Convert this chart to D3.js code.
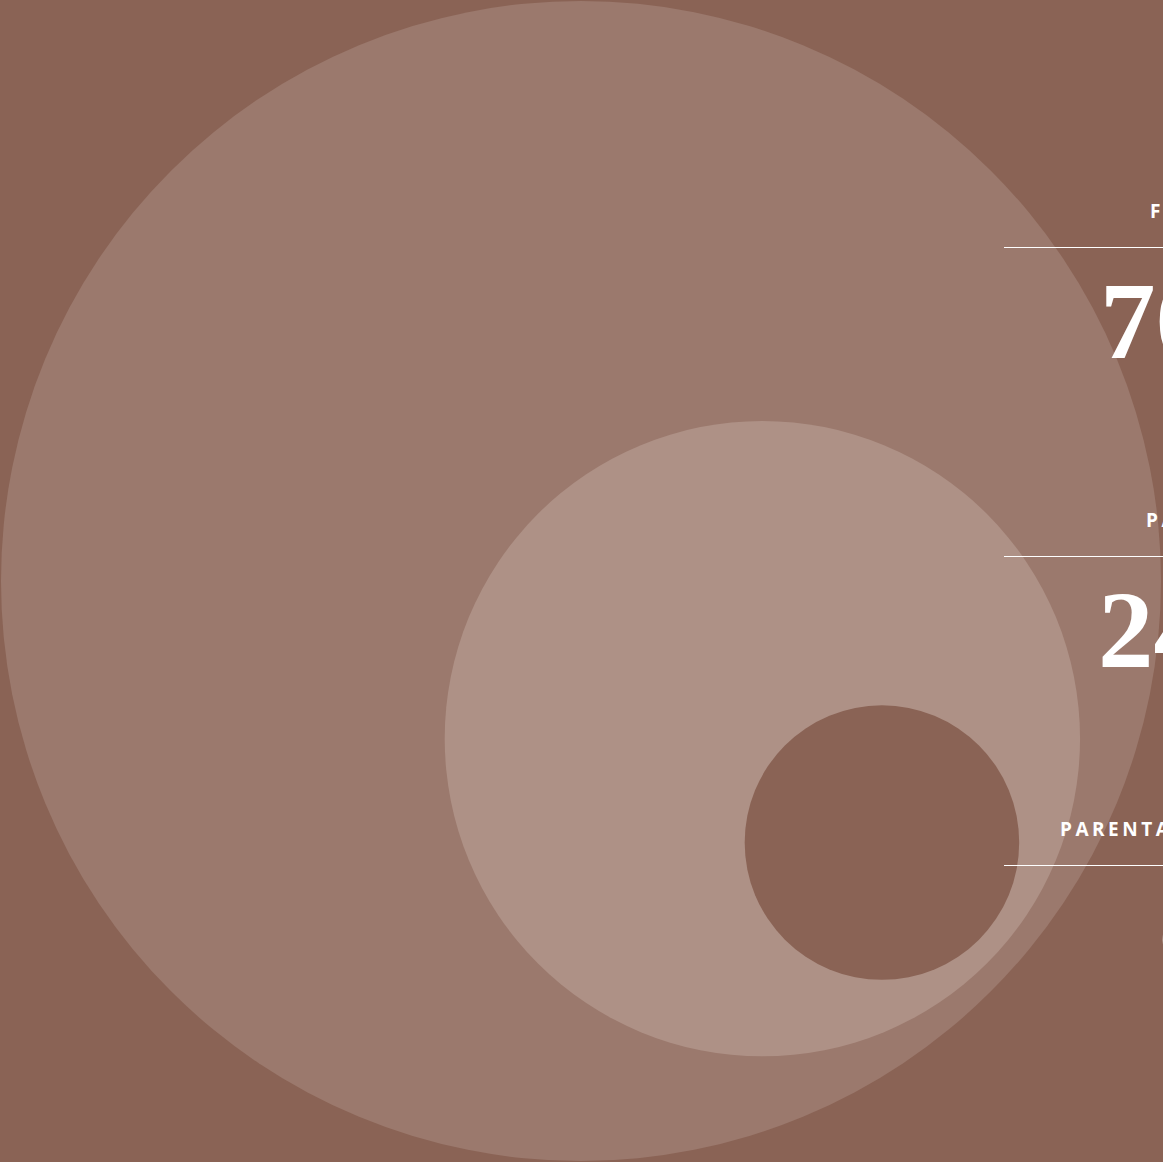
<!DOCTYPE html>
<html>
<head>
<meta charset="utf-8">
<script src="https://cdn.jsdelivr.net/npm/d3@7"></script>
<style>
  html, body { margin: 0; padding: 0; background: #8a6355; overflow: hidden; }
  svg { display: block; }
</style>
</head>
<body>
<script>
var width = 1163, height = 1162;

// data
var labels = ["FULL-TIME", "PART-TIME", "PARENTAL LEAVE"];
var shares = [70, 24.4, 5.6];          // percent
var circleColors = ["#9b796d", "#ae9186", "#8a6355"];

// circles are nested: each one holds its own share plus the ones after it
var cumulative = shares.map(function(d, i) {
  return d3.sum(shares.slice(i));
});

var svg = d3.select("body").append("svg")
    .attr("width", width)
    .attr("height", height);

svg.append("rect")
    .attr("width", width)
    .attr("height", height)
    .attr("fill", "#8a6355");

var r = d3.scaleSqrt().domain([0, 100]).range([0, 580]);

// stack circles along a diagonal, each one inset a little from its parent
var gap = 22, angle = 41 * Math.PI / 180;
var circles = [];
cumulative.forEach(function(v, i) {
  var rad = r(v);
  if (i == 0) {
    circles.push({ x: 581, y: 581, r: rad });
  } else {
    var p = circles[i - 1];
    var dist = p.r - rad - gap;
    circles.push({ x: p.x + dist * Math.cos(angle), y: p.y + dist * Math.sin(angle), r: rad });
  }
});

svg.append("g").selectAll("circle")
    .data(circles)
    .enter()
    .append("circle")
    .attr("cx", function(d) { return d.x; })
    .attr("cy", function(d) { return d.y; })
    .attr("r", function(d) { return d.r; })
    .style("fill", function(d, i) { return circleColors[i]; });

// right-hand legend column
var rowY = d3.scalePoint().domain(labels).range([247, 865]);
var labelX = [1150, 1146, 1060];
var numberX = [1100, 1098, 1159];
var fmt = d3.format(".0f");

var rows = svg.append("g").selectAll("g")
    .data(labels)
    .enter()
    .append("g")
    .attr("transform", function(d) { return "translate(0," + rowY(d) + ")"; });

rows.append("line")
    .attr("x1", 1004)
    .attr("x2", width + 200)
    .attr("y1", 0.5)
    .attr("y2", 0.5)
    .style("stroke", "#ffffff")
    .style("stroke-width", 1.2);

rows.append("text")
    .attr("x", function(d, i) { return labelX[i]; })
    .attr("y", -29)
    .style("font-family", "'Open Sans', sans-serif")
    .style("font-weight", 700)
    .style("font-size", "19px")
    .style("letter-spacing", "3.5px")
    .style("fill", "#ffffff")
    .text(function(d) { return d; });

rows.append("text")
    .attr("x", function(d, i) { return numberX[i]; })
    .attr("y", 111)
    .style("font-family", "'Liberation Serif', serif")
    .style("font-weight", 700)
    .style("font-size", "111px")
    .style("fill", "#ffffff")
    .text(function(d, i) { return fmt(shares[i]) + "%"; });
</script>
</body>
</html>
